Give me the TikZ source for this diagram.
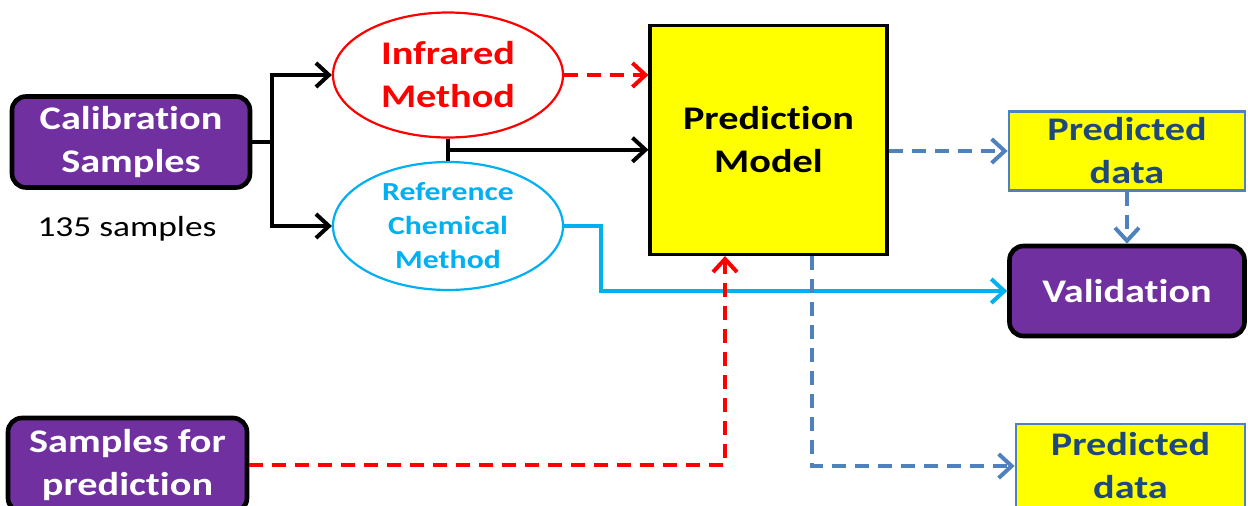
\documentclass[tikz,border=0pt]{standalone}
\usepackage{fontspec}
\setmainfont[Ligatures=NoCommon, FakeStretch=1.22]{Carlito}
\usetikzlibrary{arrows.meta,shapes.geometric,calc}
\definecolor{boxpurple}{HTML}{7030A0}
\definecolor{refcyan}{HTML}{00B0F0}
\definecolor{flowblue}{HTML}{4F81BD}
\definecolor{darkblue}{HTML}{1F497D}
\definecolor{pureyellow}{HTML}{FFFF00}
\begin{document}
\begin{tikzpicture}[x=0.5pt,y=-0.5pt,
  >={Straight Barb[length=6.5pt,width=12pt]},
  bigfont/.style={font=\bfseries\fontsize{16.5}{21.5}\selectfont},
  purplebox/.style={draw=black, line width=2.3pt, fill=boxpurple, rounded corners=7pt,
    text=white, bigfont, align=center, inner sep=0pt},
  yellowbox/.style={draw=flowblue, line width=1.4pt, fill=pureyellow, text=darkblue,
    bigfont, align=center, inner sep=0pt},
  modelbox/.style={draw=black, line width=1.6pt, fill=pureyellow, text=black,
    bigfont, align=center, inner sep=0pt},
  oval/.style={ellipse, line width=1.1pt, fill=white, inner sep=0pt},
  solidflow/.style={line width=2pt, ->},
  dashflow/.style={line width=2pt, dash pattern=on 7pt off 4.5pt, ->},
]
\useasboundingbox (0,0) rectangle (1248,505);
\clip (0,0) rectangle (1248,505);

% boxes
\node[purplebox, minimum width=119pt, minimum height=45.5pt] (cal) at (131,142) {Calibration\\Samples};
\node[font=\fontsize{14.5}{18}\selectfont] (count) at (127,229) {135 samples};
\node[purplebox, minimum width=119.5pt, minimum height=47pt] (sfp) at (127.5,465) {Samples for\\prediction};
\node[modelbox, minimum width=118.5pt, minimum height=114.5pt] (pm) at (768.5,140) {Prediction\\Model};
\node[yellowbox, minimum width=118pt, minimum height=39.5pt] (pd1) at (1127,151) {Predicted\\data};
\node[purplebox, minimum width=117.5pt, minimum height=45pt] (val) at (1127,291) {Validation};
\node[yellowbox, minimum width=114.5pt, minimum height=42pt] (pd2) at (1130.5,466) {Predicted\\data};

% methods
\node[oval, draw=red, minimum width=115pt, minimum height=62.5pt] (ir) at (448,75) {};
\node[text=red, bigfont, align=center] (irtext) at (ir) {Infrared\\Method};
\node[oval, draw=refcyan, minimum width=115pt, minimum height=64pt] (ref) at (448,226) {};
\node[text=refcyan, font=\bfseries\fontsize{13}{17}\selectfont, align=center] (reftext) at (ref) {Reference\\Chemical\\Method};

% connectors
\coordinate (split) at ($(cal.east)+(20,0)$);
\draw[line width=2pt] (cal.east) -- (split);
\draw[solidflow] (split) |- (ir.west);
\draw[solidflow] (split) |- (ref.west);

\draw[dashflow, red] (ir.east) -- (ir.east -| pm.west);

\coordinate (mid) at ($(ir.south)!0.5!(ref.north)$);
\draw[line width=2pt] (ir.south) -- (ref.north);
\draw[solidflow] (mid) -- (mid -| pm.west);

\draw[dashflow, flowblue] (pm.east |- pd1.west) -- (pd1.west);
\draw[dashflow, flowblue] (pd1.south) -- (val.north);

\coordinate (cbend) at ($(ref.east)+(37,0)$);
\draw[solidflow, refcyan] (ref.east) -- (cbend) |- (val.west);

\coordinate (pmin) at ([xshift=-21.75pt]pm.south);
\coordinate (pmout) at ([xshift=21.75pt]pm.south);
\draw[dashflow, red] (sfp.east) -| (pmin);
\draw[dashflow, flowblue] (pmout) |- (pd2.west);
\end{tikzpicture}
\end{document}
